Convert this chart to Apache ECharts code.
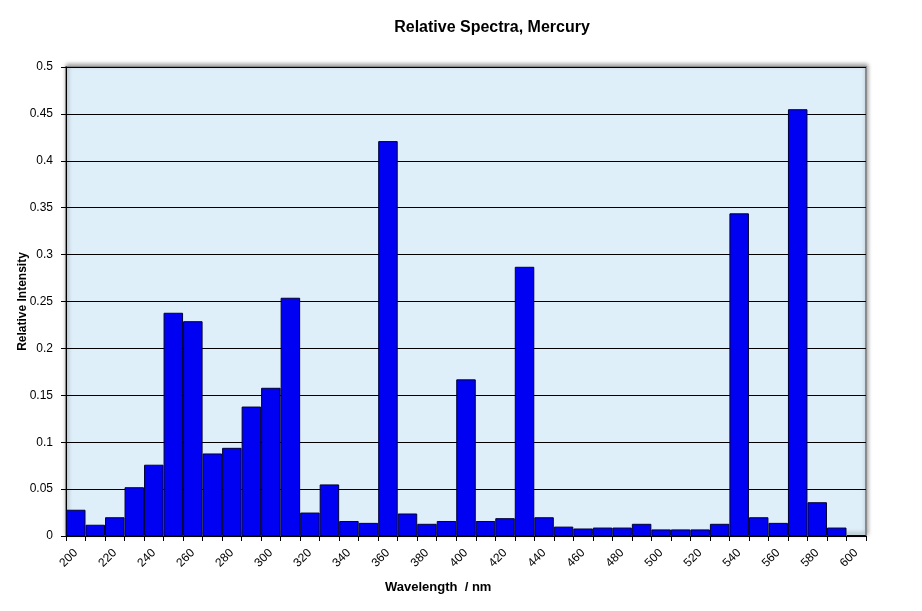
<!DOCTYPE html>
<html>
<head>
<meta charset="utf-8">
<script src="https://cdn.jsdelivr.net/npm/echarts@6/dist/echarts.min.js"></script>
<style>
  html, body { margin: 0; padding: 0; background: #fff; }
  #chart-container { width: 922px; height: 611px; }
</style>
</head>
<body>
<div id="chart-container"></div>
<script>
// 数据：波长（nm）与相对强度
const wavelengths = [200, 210, 220, 230, 240, 250, 260, 270, 280, 290,
  300, 310, 320, 330, 340, 350, 360, 370, 380, 390,
  400, 410, 420, 430, 440, 450, 460, 470, 480, 490,
  500, 510, 520, 530, 540, 550, 560, 570, 580, 590, 600];
const intensity = [0.028, 0.012, 0.020, 0.052, 0.076, 0.238, 0.229, 0.088, 0.094, 0.138,
  0.158, 0.254, 0.025, 0.055, 0.016, 0.014, 0.421, 0.024, 0.013, 0.016,
  0.167, 0.016, 0.019, 0.287, 0.020, 0.010, 0.008, 0.009, 0.009, 0.013,
  0.007, 0.007, 0.007, 0.013, 0.344, 0.020, 0.014, 0.455, 0.036, 0.009, 0.001];
const yTicks = [0, 0.05, 0.1, 0.15, 0.2, 0.25, 0.3, 0.35, 0.4, 0.45, 0.5];

const font = 'Arial, "Liberation Sans", sans-serif';
const chart = echarts.init(document.getElementById('chart-container'));

const option = {
  animation: false,
  title: {
    text: 'Relative Spectra, Mercury',
    left: 487,
    top: 15,
    textAlign: 'center',
    textStyle: { fontFamily: font, fontSize: 16, fontWeight: 'bold', color: '#000' }
  },
  grid: {
    left: 66,
    right: 56,
    top: 67,
    bottom: 75,
    show: true,
    backgroundColor: '#dfeffa',
    borderColor: '#8a8a8a',
    borderWidth: 2,
    shadowColor: 'rgba(0,0,0,0.35)',
    shadowBlur: 4,
    shadowOffsetX: 1,
    shadowOffsetY: -2
  },
  graphic: [{
    type: 'text',
    left: 385,
    top: 581,
    style: {
      text: 'Wavelength  / nm',
      font: 'bold 13px ' + font,
      fill: '#000'
    }
  }],
  xAxis: {
    type: 'category',
    data: wavelengths.map(String),
    boundaryGap: true,
    axisLine: { lineStyle: { color: '#000', width: 1 } },
    axisTick: { show: true, interval: 0, length: 5, lineStyle: { color: '#000' } },
    axisLabel: {
      interval: 1,
      rotate: 45,
      margin: 15,
      fontFamily: font,
      fontSize: 12,
      color: '#000'
    },
    splitLine: { show: false }
  },
  yAxis: {
    type: 'value',
    min: 0,
    max: 0.5,
    interval: 0.05,
    name: 'Relative Intensity',
    nameLocation: 'middle',
    nameGap: 37,
    nameMoveOverlap: false,
    nameTextStyle: { fontFamily: font, fontSize: 12, fontWeight: 'bold', color: '#000' },
    axisLine: { show: true, lineStyle: { color: '#000', width: 1 } },
    axisTick: { show: true, length: 5, lineStyle: { color: '#000' } },
    axisLabel: {
      margin: 13,
      fontFamily: font,
      fontSize: 12,
      color: '#000',
      formatter: function (v) {
        const t = yTicks.find(x => Math.abs(x - v) < 1e-9);
        return t === undefined ? '' : String(t);
      }
    },
    splitLine: { show: true, lineStyle: { color: '#000', width: 1 } }
  },
  series: [{
    type: 'bar',
    data: intensity,
    barCategoryGap: '0%',
    itemStyle: {
      color: '#0000f2',
      borderColor: '#000033',
      borderWidth: 1
    }
  }]
};

chart.setOption(option);

window.addEventListener('resize', () => chart.resize());
</script>
</body>
</html>
